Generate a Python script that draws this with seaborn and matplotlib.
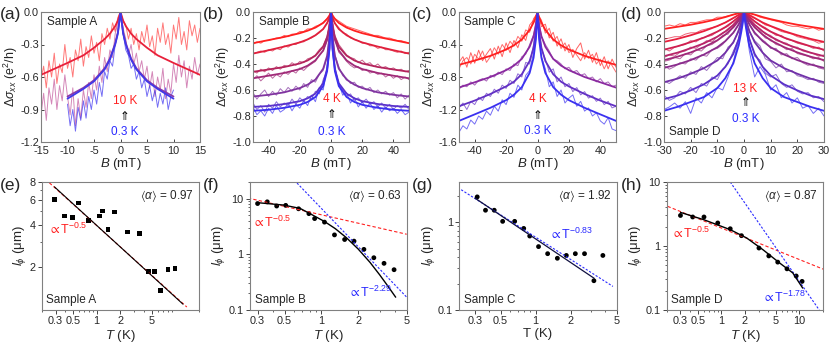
import matplotlib
matplotlib.use('Agg')
import matplotlib.pyplot as plt
import seaborn as sns
from matplotlib.ticker import FixedLocator, FixedFormatter, NullFormatter, FormatStrFormatter

# ---------------- data: panel (a) ----------------
B_a = [-15, -14.5, -14, -13.5, -13, -12.5, -12, -11.5, -11, -10.5, -10, -9.5, -9, -8.5, -8, -7.5,
       -7, -6.5, -6, -5.5, -5, -4.5, -4, -3.5, -3, -2.5, -2, -1.5, -1, -0.5, 0, 0.5, 1, 1.5, 2,
       2.5, 3, 3.5, 4, 4.5, 5, 5.5, 6, 6.5, 7, 7.5, 8, 8.5, 9, 9.5, 10, 10.5, 11, 11.5, 12, 12.5,
       13, 13.5, 14, 14.5, 15]
B_a_blue = [-10, -9.5, -9, -8.5, -8, -7.5, -7, -6.5, -6, -5.5, -5, -4.5, -4, -3.5, -3, -2.5, -2,
            -1.5, -1, -0.5, 0, 0.5, 1, 1.5, 2, 2.5, 3, 3.5, 4, 4.5, 5, 5.5, 6, 6.5, 7, 7.5, 8, 8.5,
            9, 9.5, 10]
a_data_red = [-0.62, -0.50, -0.70, -0.45, -0.60, -0.38, -0.66, -0.48, -0.56, -0.30,
              -0.52, -0.42, -0.60, -0.35, -0.45, -0.25, -0.50, -0.32, -0.42, -0.22,
              -0.38, -0.28, -0.45, -0.20, -0.30, -0.15, -0.25, -0.10, -0.18, -0.05, 0.0,
              -0.08, -0.12, -0.25, -0.15, -0.30, -0.20, -0.35, -0.18, -0.28, -0.12,
              -0.32, -0.22, -0.40, -0.15, -0.28, -0.10, -0.30, -0.20, -0.38, -0.12,
              -0.25, -0.05, -0.30, -0.18, -0.35, -0.08, -0.22, -0.12, -0.28, -0.15]
a_data_pink = [-0.95, -0.75, -1.00, -0.70, -0.85, -0.62, -0.90, -0.68, -0.82, -0.58,
               -0.78, -0.95, -0.70, -1.05, -0.80, -0.98, -0.72, -0.88, -0.65, -0.80,
               -0.58, -0.72, -0.50, -0.65, -0.42, -0.55, -0.35, -0.42, -0.20, -0.10, 0.0,
               -0.15, -0.25, -0.40, -0.30, -0.48, -0.38, -0.55, -0.45, -0.62, -0.50,
               -0.70, -0.55, -0.78, -0.60, -0.72, -0.52, -0.80, -0.62, -0.75, -0.48,
               -0.65, -0.40, -0.60, -0.45, -0.70, -0.50, -0.62, -0.42, -0.58, -0.48]
a_data_blue = [-0.85, -1.05, -0.90, -1.10, -0.88, -1.00, -0.82, -0.98, -0.78, -0.90,
               -0.72, -0.85, -0.65, -0.78, -0.55, -0.62, -0.45, -0.50, -0.30, -0.18, -0.02,
               -0.20, -0.35, -0.40, -0.52, -0.48, -0.62, -0.55, -0.70, -0.62, -0.78,
               -0.68, -0.82, -0.72, -0.88, -0.75, -0.85, -0.70, -0.90, -0.78, -0.72]
a_fit_B_red = [0, 0.5, 1, 2, 3, 5, 7, 10, 15]
a_fit_red = [0, -0.08, -0.13, -0.2, -0.25, -0.33, -0.4, -0.47, -0.58]
a_fit_B_blue = [0, 0.5, 1, 2, 3, 5, 7, 10]
a_fit_purple = [0, -0.19, -0.29, -0.43, -0.52, -0.63, -0.70, -0.78]
a_fit_blue = [0, -0.2, -0.3, -0.44, -0.53, -0.64, -0.71, -0.80]

# ---------------- data: panels (b), (c) ----------------
B_bc = [-50, -47.5, -45, -42.5, -40, -37.5, -35, -32.5, -30, -27.5, -25, -22.5, -20, -17.5, -15,
        -12.5, -10, -7.5, -5, -2.5, 0, 2.5, 5, 7.5, 10, 12.5, 15, 17.5, 20, 22.5, 25, 27.5, 30,
        32.5, 35, 37.5, 40, 42.5, 45, 47.5, 50]
b_data_1 = [-0.25, -0.23, -0.24, -0.22, -0.22, -0.21, -0.20, -0.20, -0.18, -0.19,
            -0.17, -0.17, -0.15, -0.15, -0.13, -0.13, -0.11, -0.10, -0.08, -0.05, 0.0,
            -0.05, -0.07, -0.09, -0.11, -0.12, -0.13, -0.14, -0.15, -0.16, -0.17,
            -0.18, -0.18, -0.19, -0.20, -0.20, -0.21, -0.22, -0.22, -0.23, -0.24]
b_data_2 = [-0.32, -0.31, -0.30, -0.31, -0.29, -0.30, -0.28, -0.29, -0.26, -0.27,
            -0.25, -0.25, -0.23, -0.23, -0.21, -0.20, -0.18, -0.16, -0.13, -0.08, 0.0,
            -0.09, -0.12, -0.16, -0.17, -0.20, -0.21, -0.22, -0.24, -0.24, -0.26,
            -0.26, -0.28, -0.27, -0.29, -0.29, -0.30, -0.31, -0.30, -0.32, -0.31]
b_data_3 = [-0.45, -0.47, -0.44, -0.46, -0.43, -0.45, -0.42, -0.44, -0.41, -0.42,
            -0.39, -0.41, -0.38, -0.39, -0.36, -0.35, -0.33, -0.29, -0.26, -0.19, 0.0,
            -0.18, -0.25, -0.29, -0.33, -0.35, -0.36, -0.39, -0.37, -0.40, -0.39,
            -0.42, -0.40, -0.43, -0.42, -0.44, -0.43, -0.45, -0.44, -0.46, -0.45]
b_data_4 = [-0.52, -0.49, -0.53, -0.50, -0.47, -0.51, -0.48, -0.50, -0.46, -0.48,
            -0.45, -0.47, -0.43, -0.45, -0.42, -0.40, -0.38, -0.33, -0.30, -0.22, 0.0,
            -0.20, -0.31, -0.34, -0.38, -0.41, -0.43, -0.42, -0.45, -0.44, -0.47,
            -0.46, -0.48, -0.47, -0.50, -0.48, -0.51, -0.49, -0.52, -0.50, -0.52]
b_data_5 = [-0.62, -0.67, -0.63, -0.60, -0.65, -0.61, -0.64, -0.59, -0.62, -0.58,
            -0.61, -0.57, -0.60, -0.55, -0.58, -0.52, -0.54, -0.48, -0.45, -0.35, 0.0,
            -0.33, -0.42, -0.49, -0.51, -0.55, -0.54, -0.58, -0.57, -0.60, -0.58,
            -0.62, -0.60, -0.63, -0.61, -0.64, -0.62, -0.66, -0.63, -0.67, -0.64]
b_data_6 = [-0.70, -0.75, -0.72, -0.77, -0.71, -0.74, -0.69, -0.73, -0.70, -0.72,
            -0.67, -0.71, -0.66, -0.69, -0.65, -0.67, -0.61, -0.63, -0.52, -0.45, 0.0,
            -0.42, -0.56, -0.60, -0.65, -0.63, -0.68, -0.66, -0.70, -0.67, -0.71,
            -0.69, -0.73, -0.70, -0.74, -0.71, -0.75, -0.72, -0.74, -0.71, -0.75]
b_data_7 = [-0.73, -0.79, -0.76, -0.80, -0.74, -0.78, -0.72, -0.77, -0.75, -0.70,
            -0.76, -0.71, -0.74, -0.68, -0.72, -0.64, -0.69, -0.58, -0.60, -0.42, -0.02,
            -0.44, -0.55, -0.64, -0.62, -0.70, -0.66, -0.73, -0.69, -0.74, -0.70,
            -0.75, -0.72, -0.77, -0.73, -0.76, -0.74, -0.78, -0.75, -0.79, -0.77]
bc_fit_B = [0, 1, 2.5, 5, 10, 15, 20, 30, 40, 50]
b_fit_1 = [0, -0.03, -0.053, -0.084, -0.12, -0.144, -0.163, -0.192, -0.216, -0.24]
b_fit_2 = [0, -0.048, -0.086, -0.131, -0.179, -0.211, -0.234, -0.266, -0.294, -0.32]
b_fit_3 = [0, -0.115, -0.193, -0.267, -0.336, -0.373, -0.396, -0.423, -0.442, -0.46]
b_fit_4 = [0, -0.128, -0.214, -0.296, -0.372, -0.413, -0.439, -0.469, -0.49, -0.51]
b_fit_5 = [0, -0.208, -0.338, -0.436, -0.52, -0.559, -0.585, -0.618, -0.637, -0.65]
b_fit_6 = [0, -0.277, -0.438, -0.548, -0.628, -0.664, -0.686, -0.708, -0.723, -0.73]
b_fit_7 = [0, -0.289, -0.456, -0.57, -0.654, -0.692, -0.714, -0.737, -0.752, -0.76]

c_data_red1 = [-0.62, -0.55, -0.68, -0.50, -0.63, -0.47, -0.60, -0.52, -0.45, -0.58,
               -0.42, -0.55, -0.38, -0.50, -0.35, -0.44, -0.28, -0.35, -0.16, -0.10, 0.0,
               -0.18, -0.15, -0.32, -0.25, -0.42, -0.33, -0.48, -0.40, -0.56, -0.45,
               -0.38, -0.58, -0.47, -0.62, -0.50, -0.66, -0.55, -0.70, -0.58, -0.68]
c_data_red2 = [-0.70, -0.60, -0.56, -0.64, -0.52, -0.58, -0.48, -0.62, -0.55, -0.44,
               -0.52, -0.40, -0.47, -0.36, -0.42, -0.30, -0.36, -0.22, -0.25, -0.08, -0.02,
               -0.10, -0.26, -0.20, -0.36, -0.30, -0.45, -0.38, -0.50, -0.46, -0.53,
               -0.60, -0.50, -0.57, -0.52, -0.64, -0.58, -0.70, -0.60, -0.66, -0.74]
c_data_purple = [-0.95, -0.90, -0.92, -0.86, -0.90, -0.84, -0.82, -0.85, -0.78, -0.80,
                 -0.74, -0.77, -0.70, -0.72, -0.64, -0.66, -0.55, -0.52, -0.40, -0.28, 0.0,
                 -0.30, -0.40, -0.48, -0.58, -0.60, -0.64, -0.70, -0.68, -0.74, -0.72,
                 -0.78, -0.76, -0.82, -0.80, -0.86, -0.82, -0.88, -0.86, -0.92, -0.90]
c_data_violet = [-1.18, -1.12, -1.20, -1.10, -1.14, -1.05, -1.09, -1.00, -1.04, -0.95,
                 -1.00, -0.90, -0.94, -0.84, -0.88, -0.76, -0.80, -0.62, -0.64, -0.40, 0.0,
                 -0.45, -0.58, -0.74, -0.70, -0.86, -0.80, -0.92, -0.88, -0.98, -0.93,
                 -1.02, -0.98, -1.06, -1.03, -1.10, -1.06, -1.14, -1.10, -1.18, -1.16]
c_data_blue = [-1.48, -1.40, -1.44, -1.33, -1.38, -1.28, -1.32, -1.22, -1.27, -1.16,
               -1.22, -1.08, -1.14, -1.00, -1.05, -0.90, -0.96, -0.78, -0.72, -0.50, -0.02,
               -0.55, -0.70, -0.92, -0.86, -1.04, -0.96, -1.12, -1.06, -1.02, -1.16,
               -1.10, -1.22, -1.18, -1.28, -1.24, -1.34, -1.38, -1.30, -1.44, -1.46]
c_fit_red = [0, -0.065, -0.13, -0.221, -0.338, -0.41, -0.462, -0.54, -0.598, -0.65]
c_fit_purple = [0, -0.167, -0.298, -0.428, -0.577, -0.66, -0.716, -0.80, -0.865, -0.93]
c_fit_violet = [0, -0.255, -0.441, -0.603, -0.766, -0.858, -0.916, -1.009, -1.09, -1.16]
c_fit_blue = [0, -0.335, -0.563, -0.75, -0.925, -1.018, -1.085, -1.179, -1.26, -1.34]

# ---------------- data: panel (d) ----------------
B_d = [-30, -28, -26, -24, -22, -20, -18, -16, -14, -12, -10, -8, -6, -4, -2, 0,
       2, 4, 6, 8, 10, 12, 14, 16, 18, 20, 22, 24, 26, 28, 30]
d_data_1 = [-0.11, -0.10, -0.11, -0.09, -0.10, -0.08, -0.08, -0.07, -0.06, -0.06, -0.04, -0.04, -0.03, -0.02, -0.01, 0.0,
            -0.01, -0.02, -0.04, -0.05, -0.06, -0.07, -0.08, -0.10, -0.11, -0.11, -0.12, -0.13, -0.12, -0.14, -0.13]
d_data_2 = [-0.21, -0.20, -0.19, -0.19, -0.17, -0.16, -0.16, -0.14, -0.13, -0.12, -0.11, -0.09, -0.07, -0.05, -0.02, 0.0,
            -0.03, -0.05, -0.07, -0.10, -0.11, -0.13, -0.15, -0.16, -0.17, -0.19, -0.20, -0.21, -0.22, -0.24, -0.23]
d_data_3 = [-0.28, -0.30, -0.27, -0.26, -0.25, -0.22, -0.23, -0.20, -0.19, -0.18, -0.15, -0.13, -0.11, -0.07, -0.04, 0.0,
            -0.04, -0.07, -0.10, -0.12, -0.15, -0.18, -0.18, -0.21, -0.22, -0.24, -0.25, -0.26, -0.28, -0.27, -0.30]
d_data_4 = [-0.35, -0.33, -0.34, -0.31, -0.30, -0.27, -0.28, -0.25, -0.22, -0.23, -0.19, -0.16, -0.14, -0.10, -0.05, 0.0,
            -0.06, -0.10, -0.13, -0.17, -0.18, -0.22, -0.23, -0.24, -0.27, -0.27, -0.30, -0.31, -0.32, -0.34, -0.33]
d_data_5 = [-0.38, -0.37, -0.35, -0.36, -0.32, -0.33, -0.29, -0.30, -0.26, -0.25, -0.22, -0.18, -0.17, -0.11, -0.07, 0.0,
            -0.07, -0.12, -0.15, -0.20, -0.21, -0.25, -0.26, -0.29, -0.28, -0.32, -0.33, -0.34, -0.36, -0.35, -0.38]
d_data_6 = [-0.41, -0.44, -0.42, -0.39, -0.40, -0.36, -0.37, -0.33, -0.34, -0.29, -0.28, -0.25, -0.20, -0.16, -0.10, 0.0,
            -0.09, -0.17, -0.20, -0.23, -0.28, -0.28, -0.33, -0.32, -0.36, -0.35, -0.39, -0.41, -0.40, -0.43, -0.44]
d_data_7 = [-0.53, -0.55, -0.52, -0.49, -0.51, -0.46, -0.48, -0.42, -0.45, -0.40, -0.35, -0.36, -0.27, -0.24, -0.13, 0.0,
            -0.15, -0.22, -0.26, -0.36, -0.38, -0.43, -0.40, -0.46, -0.45, -0.49, -0.50, -0.52, -0.51, -0.54, -0.55]
d_data_8 = [-0.64, -0.68, -0.66, -0.61, -0.63, -0.58, -0.62, -0.55, -0.57, -0.50, -0.52, -0.44, -0.40, -0.30, -0.21, 0.0,
            -0.20, -0.34, -0.37, -0.47, -0.50, -0.48, -0.55, -0.58, -0.56, -0.61, -0.63, -0.62, -0.66, -0.65, -0.69]
d_data_9 = [-0.75, -0.73, -0.70, -0.74, -0.69, -0.78, -0.66, -0.70, -0.62, -0.66, -0.58, -0.60, -0.50, -0.38, -0.22, 0.0,
            -0.30, -0.50, -0.42, -0.48, -0.60, -0.56, -0.66, -0.62, -0.70, -0.66, -0.74, -0.72, -0.78, -0.74, -0.80]
d_fit_B = [0, 0.5, 1, 2, 4, 7, 10, 15, 20, 25, 30]
d_fit_1 = [0, -0.001, -0.004, -0.009, -0.02, -0.039, -0.055, -0.078, -0.098, -0.114, -0.13]
d_fit_2 = [0, -0.005, -0.012, -0.023, -0.046, -0.081, -0.108, -0.147, -0.179, -0.207, -0.23]
d_fit_3 = [0, -0.009, -0.02, -0.038, -0.073, -0.116, -0.151, -0.197, -0.232, -0.264, -0.29]
d_fit_4 = [0, -0.014, -0.031, -0.054, -0.099, -0.15, -0.19, -0.241, -0.279, -0.313, -0.34]
d_fit_5 = [0, -0.019, -0.037, -0.067, -0.118, -0.174, -0.218, -0.27, -0.311, -0.344, -0.37]
d_fit_6 = [0, -0.026, -0.052, -0.095, -0.159, -0.224, -0.271, -0.327, -0.37, -0.404, -0.43]
d_fit_7 = [0, -0.043, -0.081, -0.146, -0.232, -0.313, -0.373, -0.432, -0.475, -0.513, -0.54]
d_fit_8 = [0, -0.067, -0.121, -0.208, -0.322, -0.422, -0.489, -0.556, -0.603, -0.643, -0.67]
d_fit_9 = [0, -0.091, -0.152, -0.258, -0.395, -0.509, -0.585, -0.654, -0.692, -0.73, -0.76]

# ---------------- data: bottom row (l_phi vs T) ----------------
e_T = [0.29, 0.39, 0.49, 0.59, 0.79, 1.09, 1.19, 1.39, 1.69, 2.48, 3.49, 4.54, 5.46, 6.5, 8.06, 9.9]
e_l = [6.0, 4.6, 4.5, 5.7, 4.3, 4.6, 5.0, 3.7, 4.9, 3.55, 3.45, 1.86, 1.86, 1.37, 1.94, 1.96]
e_line_T = [0.29, 12.5]
e_line_l = [7.4, 1.1]
e_red_T = [0.25, 14.0]
e_red_l = [7.9, 1.05]

f_T = [0.30, 0.36, 0.43, 0.51, 0.65, 0.79, 0.88, 1.06, 1.28, 1.55, 1.85, 2.23, 2.69, 3.26, 3.94]
f_l = [8.2, 8.8, 7.4, 7.6, 6.6, 5.4, 4.4, 3.8, 2.24, 1.85, 1.73, 1.23, 0.87, 0.69, 0.53]
f_fit_T = [0.30, 0.49, 0.67, 0.86, 1.06, 1.3, 1.6, 2.0, 2.5, 3.0, 3.5, 4.06]
f_fit_l = [8.5, 7.7, 6.7, 5.0, 3.9, 2.9, 2.0, 1.25, 0.72, 0.43, 0.27, 0.17]
f_red_T = [0.25, 5.0]
f_red_l = [10.3, 2.3]
f_blue_T = [0.6, 5.0]
f_blue_l = [21.5, 0.17]

g_T = [0.314, 0.37, 0.44, 0.52, 0.66, 0.79, 0.89, 1.06, 1.27, 1.54, 1.84, 2.2, 2.64, 3.18, 3.8]
g_l = [1.96, 1.38, 1.38, 1.03, 1.03, 0.855, 0.70, 0.53, 0.44, 0.39, 0.42, 0.44, 0.44, 0.216, 0.42]
g_fit_T = [0.30, 3.2]
g_fit_l = [1.9, 0.23]
g_blue_T = [0.214, 4.64]
g_blue_l = [2.5, 0.186]

h_T = [0.30, 0.43, 0.60, 0.90, 1.30, 1.81, 3.03, 4.05, 5.27, 6.92, 9.08, 10.8]
h_l = [3.0, 2.84, 2.84, 2.29, 1.86, 1.45, 0.93, 0.70, 0.56, 0.44, 0.34, 0.28]
h_fit_T = [0.30, 0.60, 1.30, 2.12, 3.43, 5.6, 8.2, 11.0]
h_fit_l = [3.35, 2.57, 1.8, 1.33, 0.87, 0.54, 0.38, 0.22]
h_red_T = [0.205, 20.0]
h_red_l = [4.17, 0.436]
h_blue_T = [1.3, 17.9]
h_blue_l = [10.0, 0.1]

# colours
RED = '#ff2020'
BLUE = '#2a2aff'
b_colors = ['#ff2020', '#e0203c', '#b4245c', '#a02a78', '#8034a0', '#5a32cc', '#3a30f0']
c_colors = ['#ff2020', '#ff3030', '#8a2aa0', '#6230c4', '#3a30f0']
d_colors = ['#ff2020', '#e81e3c', '#d02050', '#b82468', '#a02878', '#8a2c8c', '#7030a8', '#5a30c8', '#3a30f0']

sns.set_style('ticks')
plt.rcParams['font.family'] = ['Liberation Sans', 'DejaVu Sans']
plt.rcParams['mathtext.fontset'] = 'custom'
plt.rcParams['mathtext.rm'] = 'Liberation Sans'
plt.rcParams['mathtext.it'] = 'Liberation Sans:italic'
plt.rcParams['mathtext.fallback'] = 'stixsans'
plt.rcParams['axes.unicode_minus'] = False

fig = plt.figure(figsize=(8.3, 3.45), dpi=100)
SPINE = '#808080'


def mirror(bh, vh):
    return [-x for x in bh[::-1]] + bh[1:], vh[::-1] + vh[1:]


def trace(ax, x, y, c, lw=0.7, alpha=0.7):
    sns.lineplot(x=x, y=y, ax=ax, color=c, lw=lw, alpha=alpha, estimator=None, sort=False)


def fit(ax, bh, vh, c):
    x, y = mirror(bh, vh)
    sns.lineplot(x=x, y=y, ax=ax, color=c, lw=1.3, estimator=None, sort=False)


def style_top(ax, xlim, xticks, ylim, yticks):
    ax.set_xlim(*xlim)
    ax.set_ylim(*ylim)
    ax.set_xticks(xticks)
    ax.set_yticks(yticks)
    ax.yaxis.set_major_formatter(FormatStrFormatter('%.1f'))
    ax.tick_params(direction='in', length=2.5, width=0.6, labelsize=7.8, pad=1.5)
    ax.tick_params(axis='x', pad=3)
    for s in ax.spines.values():
        s.set_color(SPINE)
        s.set_linewidth(0.8)
    ax.set_xlabel(r'$B$ (mT)', fontsize=9.5, labelpad=0)
    ax.set_ylabel(r'$\Delta\sigma_{xx}$ (e$^2$/h)', fontsize=9, labelpad=0)


def temp_labels(ax, x, y_hi, y_arr, y_lo, hi):
    ax.text(x, y_hi, hi, color=RED, fontsize=8.5, ha='center', va='center')
    ax.text(x, y_arr, '\u21d1', color='k', fontsize=8.5, ha='center', va='center',
            family=['DejaVu Sans'])
    ax.text(x, y_lo, '0.3 K', color=BLUE, fontsize=8.5, ha='center', va='center')


# ---------------- (a) ----------------
ax = fig.add_axes([41 / 830, 203 / 345, 159 / 830, 130 / 345])
trace(ax, B_a, a_data_red, RED, alpha=0.6)
trace(ax, B_a, a_data_pink, '#b8388a', alpha=0.6)
trace(ax, B_a_blue, a_data_blue, '#3a30f0', alpha=0.7)
fit(ax, a_fit_B_red, a_fit_red, '#e8203a')
fit(ax, a_fit_B_blue, a_fit_purple, '#8a3aa8')
fit(ax, a_fit_B_blue, a_fit_blue, '#4038e8')
style_top(ax, (-15, 15), [-15, -10, -5, 0, 5, 10, 15], (-1.2, 0.0), [-1.2, -0.9, -0.6, -0.3, 0.0])
ax.text(0.04, 0.97, 'Sample A', transform=ax.transAxes, fontsize=8.5, ha='left', va='top')
temp_labels(ax, 0.8, -0.82, -0.96, -1.11, '10 K')

# ---------------- (b) ----------------
ax = fig.add_axes([253 / 830, 203 / 345, 156 / 830, 130 / 345])
b_data = [b_data_1, b_data_2, b_data_3, b_data_4, b_data_5, b_data_6, b_data_7]
b_fits = [b_fit_1, b_fit_2, b_fit_3, b_fit_4, b_fit_5, b_fit_6, b_fit_7]
for dat, c in zip(b_data, b_colors):
    trace(ax, B_bc, dat, c)
for ft, c in zip(b_fits, b_colors):
    fit(ax, bc_fit_B, ft, c)
style_top(ax, (-50, 50), [-40, -20, 0, 20, 40], (-1.0, 0.0), [-1.0, -0.8, -0.6, -0.4, -0.2, 0.0])
ax.text(0.04, 0.97, 'Sample B', transform=ax.transAxes, fontsize=8.5, ha='left', va='top')
temp_labels(ax, 0.5, -0.67, -0.79, -0.92, '4 K')

# ---------------- (c) ----------------
ax = fig.add_axes([459 / 830, 203 / 345, 157 / 830, 130 / 345])
c_data = [c_data_red1, c_data_red2, c_data_purple, c_data_violet, c_data_blue]
for dat, c in zip(c_data, c_colors):
    trace(ax, B_bc, dat, c)
c_fits = [c_fit_red, c_fit_purple, c_fit_violet, c_fit_blue]
for ft, c in zip(c_fits, ['#ff2020', '#8a2aa0', '#6230c4', '#3a30f0']):
    fit(ax, bc_fit_B, ft, c)
style_top(ax, (-50, 50), [-40, -20, 0, 20, 40], (-1.6, 0.0), [-1.6, -1.2, -0.8, -0.4, 0.0])
ax.text(0.03, 0.97, 'Sample C', transform=ax.transAxes, fontsize=8.5, ha='left', va='top')
temp_labels(ax, 0.0, -1.07, -1.27, -1.46, '4 K')

# ---------------- (d) ----------------
ax = fig.add_axes([664 / 830, 203 / 345, 160 / 830, 130 / 345])
d_data = [d_data_1, d_data_2, d_data_3, d_data_4, d_data_5, d_data_6, d_data_7, d_data_8, d_data_9]
d_fits = [d_fit_1, d_fit_2, d_fit_3, d_fit_4, d_fit_5, d_fit_6, d_fit_7, d_fit_8, d_fit_9]
for dat, c in zip(d_data, d_colors):
    trace(ax, B_d, dat, c)
for ft, c in zip(d_fits, d_colors):
    fit(ax, d_fit_B, ft, c)
style_top(ax, (-30, 30), [-30, -20, -10, 0, 10, 20, 30], (-1.0, 0.0), [-1.0, -0.8, -0.6, -0.4, -0.2, 0.0])
ax.text(0.03, 0.03, 'Sample D', transform=ax.transAxes, fontsize=8.5, ha='left', va='bottom')
temp_labels(ax, 0.6, -0.59, -0.70, -0.82, '13 K')


# ---------------- bottom row ----------------
def style_bottom(ax, xlim, xticks, ylim, yticks, italic=True):
    ax.set_xscale('log')
    ax.set_yscale('log')
    ax.set_xlim(*xlim)
    ax.set_ylim(*ylim)
    ax.xaxis.set_major_locator(FixedLocator(xticks))
    ax.xaxis.set_major_formatter(FixedFormatter([('%g' % t) for t in xticks]))
    ax.xaxis.set_minor_formatter(NullFormatter())
    ax.yaxis.set_major_locator(FixedLocator(yticks))
    ax.yaxis.set_major_formatter(FixedFormatter([('%g' % t) for t in yticks]))
    ax.yaxis.set_minor_formatter(NullFormatter())
    ax.tick_params(which='major', direction='out', length=3, width=0.6, labelsize=7.8, pad=1.5)
    ax.tick_params(which='minor', direction='out', length=1.5, width=0.5)
    for s in ax.spines.values():
        s.set_color(SPINE)
        s.set_linewidth(0.8)
    ax.set_xlabel(r'$T$ (K)' if italic else 'T (K)', fontsize=9.5, labelpad=1)
    ax.set_ylabel(r'$l_\phi$ (μm)', fontsize=9.5, labelpad=1)


def line(ax, x, y, c, ls='-', lw=0.9):
    sns.lineplot(x=x, y=y, ax=ax, color=c, lw=lw, linestyle=ls, estimator=None, sort=False)


def corner(ax, alpha_txt, sample):
    ax.text(0.97, 0.95, r'$\langle\alpha\rangle$ = ' + alpha_txt, transform=ax.transAxes,
            fontsize=8.5, ha='right', va='top')
    ax.text(0.03, 0.03, sample, transform=ax.transAxes, fontsize=8.5, ha='left', va='bottom')


DASH = (0, (3, 2))
DOT = (0, (2, 1.5))

# (e)
ax = fig.add_axes([41.7 / 830, 35 / 345, 157.3 / 830, 128 / 345])
line(ax, e_red_T, e_red_l, RED, DASH, 0.8)
line(ax, e_line_T, e_line_l, 'k', '-', 0.8)
sns.scatterplot(x=e_T, y=e_l, ax=ax, marker='s', s=11, color='k', edgecolor='none')
style_bottom(ax, (0.2, 20), [0.3, 0.5, 1, 2, 5], (1, 8), [2, 4, 6, 8])
corner(ax, '0.97', 'Sample A')
ax.text(0.24, 3.7, r'$\propto$T$^{-0.5}$', color=RED, fontsize=9, ha='left', va='center')

# (f)
ax = fig.add_axes([250 / 830, 35 / 345, 156.7 / 830, 128 / 345])
line(ax, f_red_T, f_red_l, RED, DASH, 0.8)
line(ax, f_blue_T, f_blue_l, BLUE, DOT, 0.8)
line(ax, f_fit_T, f_fit_l, 'k', '-', 1.0)
sns.scatterplot(x=f_T, y=f_l, ax=ax, marker='o', s=12, color='k', edgecolor='none')
style_bottom(ax, (0.26, 5), [0.3, 0.5, 1, 2, 5], (0.1, 20), [0.1, 1, 10])
corner(ax, '0.63', 'Sample B')
ax.text(0.27, 3.8, r'$\propto$T$^{-0.5}$', color=RED, fontsize=9, ha='left', va='center')
ax.text(1.65, 0.21, r'$\propto$T$^{-2.29}$', color=BLUE, fontsize=9, ha='left', va='center')

# (g)
ax = fig.add_axes([459.3 / 830, 35 / 345, 157.4 / 830, 128 / 345])
line(ax, g_blue_T, g_blue_l, BLUE, DOT, 0.8)
line(ax, g_fit_T, g_fit_l, '#101040', '-', 0.9)
sns.scatterplot(x=g_T, y=g_l, ax=ax, marker='o', s=12, color='k', edgecolor='none')
style_bottom(ax, (0.22, 5), [0.3, 0.5, 1, 2, 5], (0.1, 2.9), [0.1, 1], italic=False)
corner(ax, '1.92', 'Sample C')
ax.text(1.3, 0.74, r'$\propto$T$^{-0.83}$', color=BLUE, fontsize=9, ha='left', va='center')

# (h)
ax = fig.add_axes([666.7 / 830, 35 / 345, 156.3 / 830, 128 / 345])
line(ax, h_red_T, h_red_l, RED, DASH, 0.8)
line(ax, h_blue_T, h_blue_l, BLUE, DOT, 0.8)
line(ax, h_fit_T, h_fit_l, 'k', '-', 1.0)
sns.scatterplot(x=h_T, y=h_l, ax=ax, marker='o', s=12, color='k', edgecolor='none')
style_bottom(ax, (0.2, 20), [0.3, 0.5, 1, 2, 5, 10], (0.1, 10), [0.1, 1, 10])
corner(ax, '0.87', 'Sample D')
ax.text(0.23, 1.6, r'$\propto$T$^{-0.5}$', color=RED, fontsize=9, ha='left', va='center')
ax.text(3.3, 0.16, r'$\propto$T$^{-1.78}$', color=BLUE, fontsize=9, ha='left', va='center')

# panel letters
for lab, x, y in [('(a)', 0, 15), ('(b)', 203, 15), ('(c)', 412, 15), ('(d)', 621, 15),
                  ('(e)', 0, 185), ('(f)', 203, 185), ('(g)', 412, 185), ('(h)', 621, 185)]:
    fig.text(x / 830, 1 - y / 345, lab, fontsize=12.5, ha='left', va='center')

fig.savefig('out.png', dpi=100)
